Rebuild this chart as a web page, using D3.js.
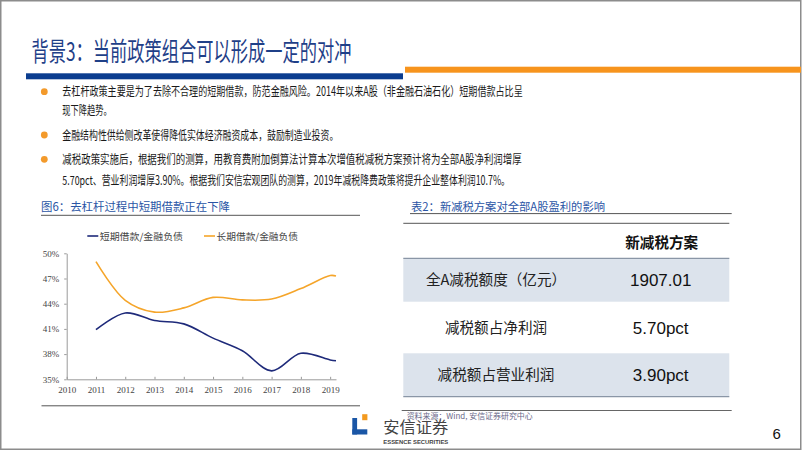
<!DOCTYPE html>
<html>
<head>
<meta charset="utf-8">
<script src="https://cdn.jsdelivr.net/npm/d3@7"></script>
<style>
  html, body { margin: 0; padding: 0; background: #fff; }
  svg { display: block; }
</style>
</head>
<body>
<svg id="slide" width="802" height="451"></svg>
<script>
// ---------- data ----------
const slideTitle = "背景3：当前政策组合可以形成一定的对冲";
const bulletLines = [
  "去杠杆政策主要是为了去除不合理的短期借款，防范金融风险。2014年以来A股（非金融石油石化）短期借款占比呈",
  "现下降趋势。",
  "金融结构性供给侧改革使得降低实体经济融资成本，鼓励制造业投资。",
  "减税政策实施后，根据我们的测算，用教育费附加倒算法计算本次增值税减税方案预计将为全部A股净利润增厚",
  "5.70pct、营业利润增厚3.90%。根据我们安信宏观团队的测算，2019年减税降费政策将提升企业整体利润10.7%。"
];
const chartTitle = "图6：去杠杆过程中短期借款正在下降";
const seriesNames = ["短期借款/金融负债", "长期借款/金融负债"];
const years = [2011, 2012, 2013, 2014, 2015, 2016, 2017, 2018, 2019, 2019.2];
const shortDebt = [40.9, 42.9, 42.0, 41.6, 39.9, 38.4, 36.0, 38.1, 37.3, 37.2];
const longDebt  = [49.0, 44.4, 43.0, 43.5, 44.75, 44.45, 44.55, 45.8, 47.35, 47.3];
const xTicks = [2010, 2011, 2012, 2013, 2014, 2015, 2016, 2017, 2018, 2019];
const yTicks = [35, 38, 41, 44, 47, 50];

const tableTitle = "表2：新减税方案对全部A股盈利的影响";
const tableHeader = "新减税方案";
const rowLabels = ["全A减税额度（亿元）", "减税额占净利润", "减税额占营业利润"];
const rowValues = ["1907.01", "5.70pct", "3.90pct"];
const sourceText = "资料来源：Wind, 安信证券研究中心";
const logoCN = "安信证券";
const logoEN = "ESSENCE SECURITIES";
const pageNo = "6";

// ---------- drawing ----------
const svg = d3.select("#slide");
const CJK = "'Noto Sans CJK SC', 'Noto Sans', sans-serif";
const SERIF = "'Liberation Serif', 'DejaVu Serif', serif";
const ARIAL = "'Liberation Sans', Arial, sans-serif";

function fitText(g, str, x, y, size, width, opts = {}) {
  const t = g.append("text")
    .attr("x", x).attr("y", y)
    .attr("font-family", opts.family || CJK)
    .attr("font-size", size)
    .attr("fill", opts.fill || "#222")
    .attr("font-weight", opts.weight || "normal")
    .attr("text-anchor", opts.anchor || "start")
    .text(str);
  if (width) t.attr("textLength", width).attr("lengthAdjust", "spacingAndGlyphs");
  return t;
}

// frame
svg.append("rect").attr("x", 0.75).attr("y", 0.75).attr("width", 800).attr("height", 448.5)
  .attr("fill", "none").attr("stroke", "#8c8c8c").attr("stroke-width", 1.5);

// title
fitText(svg, slideTitle, 31.5, 61, 26, 320, { fill: "#1f4088" });
svg.append("rect").attr("x", 26).attr("y", 73.3).attr("width", 377).attr("height", 6).attr("fill", "#0b3d8f");
svg.append("rect").attr("x", 405).attr("y", 66.7).attr("width", 396).attr("height", 6).attr("fill", "#f7941d");

// bullets
const bulletY = [91.7, 110.3, 135, 159.3, 180];
const bulletEnd = [522.7, 111.7, 338.3, 521.7, 510];
const bulletDot = [true, false, true, true, false];
bulletLines.forEach((s, i) => {
  if (bulletDot[i]) {
    svg.append("circle").attr("cx", 44.3).attr("cy", bulletY[i]).attr("r", 3.4).attr("fill", "#f39a2b");
  }
  fitText(svg, s, 62.3, bulletY[i] + 4.6, 12.5, bulletEnd[i] - 62.3, { fill: "#1a1a1a" });
});

// ---------- chart ----------
const cg = svg.append("g");
fitText(cg, chartTitle, 41, 211, 11.5, 189, { fill: "#2a55a5" });
cg.append("line").attr("x1", 41).attr("x2", 360).attr("y1", 215.3).attr("y2", 215.3).attr("stroke", "#555").attr("stroke-width", 1);
cg.append("line").attr("x1", 41.5).attr("x2", 360).attr("y1", 405.8).attr("y2", 405.8).attr("stroke", "#555").attr("stroke-width", 1);

const x = d3.scaleLinear().domain([2010, 2019.2]).range([66.7, 336]);
const y = d3.scaleLinear().domain([35, 50]).range([379.3, 253.3]);

const xAxis = d3.axisBottom(x).tickValues(xTicks).tickFormat(d3.format("d")).tickSizeInner(-2.5).tickSizeOuter(0).tickPadding(7);
const gx = cg.append("g").attr("transform", `translate(0,${y(35)})`).call(xAxis);
gx.select(".domain").attr("stroke", "#9a9a9a");
gx.selectAll(".tick line").attr("stroke", "#9a9a9a");
gx.selectAll("text").attr("font-family", SERIF).attr("font-size", 9).attr("fill", "#444");

const yAxis = d3.axisLeft(y).tickValues(yTicks).tickFormat(d => d + "%").tickSizeInner(2.5).tickSizeOuter(0).tickPadding(5);
const gy = cg.append("g").attr("transform", `translate(${x(2010)},0)`).call(yAxis);
gy.select(".domain").attr("stroke", "#9a9a9a");
gy.selectAll(".tick line").attr("stroke", "#9a9a9a");
gy.selectAll("text").attr("font-family", SERIF).attr("font-size", 9).attr("fill", "#444");

const line = d3.line().x(d => x(d[0])).y(d => y(d[1])).curve(d3.curveCatmullRom.alpha(0.5));
const colors = ["#1e2a7a", "#f5a52a"];
[shortDebt, longDebt].forEach((vals, k) => {
  cg.append("path").datum(years.map((yr, i) => [yr, vals[i]]))
    .attr("d", line).attr("fill", "none").attr("stroke", colors[k]).attr("stroke-width", 1.6);
});

// legend
const legX = [87.3, 204];
const legTextEnd = [183, 298];
seriesNames.forEach((n, k) => {
  cg.append("line").attr("x1", legX[k]).attr("x2", legX[k] + 11).attr("y1", 236).attr("y2", 236)
    .attr("stroke", colors[k]).attr("stroke-width", 1.6);
  fitText(cg, n, legX[k] + 12.5, 239.5, 9.5, legTextEnd[k] - legX[k] - 12.5, { fill: "#444" });
});

// ---------- table ----------
const tg = svg.append("g");
fitText(tg, tableTitle, 411, 211, 11.5, 194, { fill: "#2a55a5" });
tg.append("line").attr("x1", 410).attr("x2", 731.7).attr("y1", 213.6).attr("y2", 213.6).attr("stroke", "#555").attr("stroke-width", 1);
tg.append("line").attr("x1", 403.3).attr("x2", 729.3).attr("y1", 223.3).attr("y2", 223.3).attr("stroke", "#777").attr("stroke-width", 1.3);

const rowTop = [258.3, 301.7, 353.3];
const rowBot = [301.7, 353.3, 396.7];
const rowShade = [true, false, true];
rowLabels.forEach((lab, i) => {
  if (rowShade[i]) {
    tg.append("rect").attr("x", 403.3).attr("y", rowTop[i]).attr("width", 326).attr("height", rowBot[i] - rowTop[i]).attr("fill", "#dce3ec");
  }
  const cy = (rowTop[i] + rowBot[i]) / 2;
  fitText(tg, lab, 496, cy + 5.2, 14.6, null, { anchor: "middle", fill: "#222" });
  tg.append("text").attr("x", 660.7).attr("y", cy + 6.2).attr("text-anchor", "middle")
    .attr("font-family", ARIAL).attr("font-size", 17).attr("fill", "#111").text(rowValues[i]);
});
tg.append("line").attr("x1", 403.3).attr("x2", 729.3).attr("y1", 258.3).attr("y2", 258.3).attr("stroke", "#8a96a6").attr("stroke-width", 1.2);
tg.append("line").attr("x1", 403.3).attr("x2", 729.3).attr("y1", 396.7).attr("y2", 396.7).attr("stroke", "#8a96a6").attr("stroke-width", 1.2);
fitText(tg, tableHeader, 661.7, 247.5, 14.6, null, { anchor: "middle", weight: "bold", fill: "#111" });
tg.append("line").attr("x1", 401.7).attr("x2", 731.7).attr("y1", 410.5).attr("y2", 410.5).attr("stroke", "#666").attr("stroke-width", 1);

fitText(svg, sourceText, 406.7, 419, 7.5, 126, { fill: "#6a6a8a" });

// ---------- logo / footer ----------
svg.append("rect").attr("x", 352.3).attr("y", 418).attr("width", 4.8).attr("height", 16.5).attr("fill", "#1a56a6");
svg.append("rect").attr("x", 352.3).attr("y", 429.3).attr("width", 15).attr("height", 5.2).attr("fill", "#1a56a6");
svg.append("rect").attr("x", 362.2).attr("y", 414.2).attr("width", 5.2).attr("height", 6).attr("fill", "#f39a1e");
fitText(svg, logoCN, 383.3, 433, 15.5, 65, { fill: "#444" });
fitText(svg, logoEN, 383.3, 443.5, 5.6, 65, { family: ARIAL, weight: "bold", fill: "#444" });

svg.append("text").attr("x", 776.7).attr("y", 438.5).attr("text-anchor", "middle")
  .attr("font-family", ARIAL).attr("font-size", 15).attr("fill", "#111").text(pageNo);
</script>
</body>
</html>
